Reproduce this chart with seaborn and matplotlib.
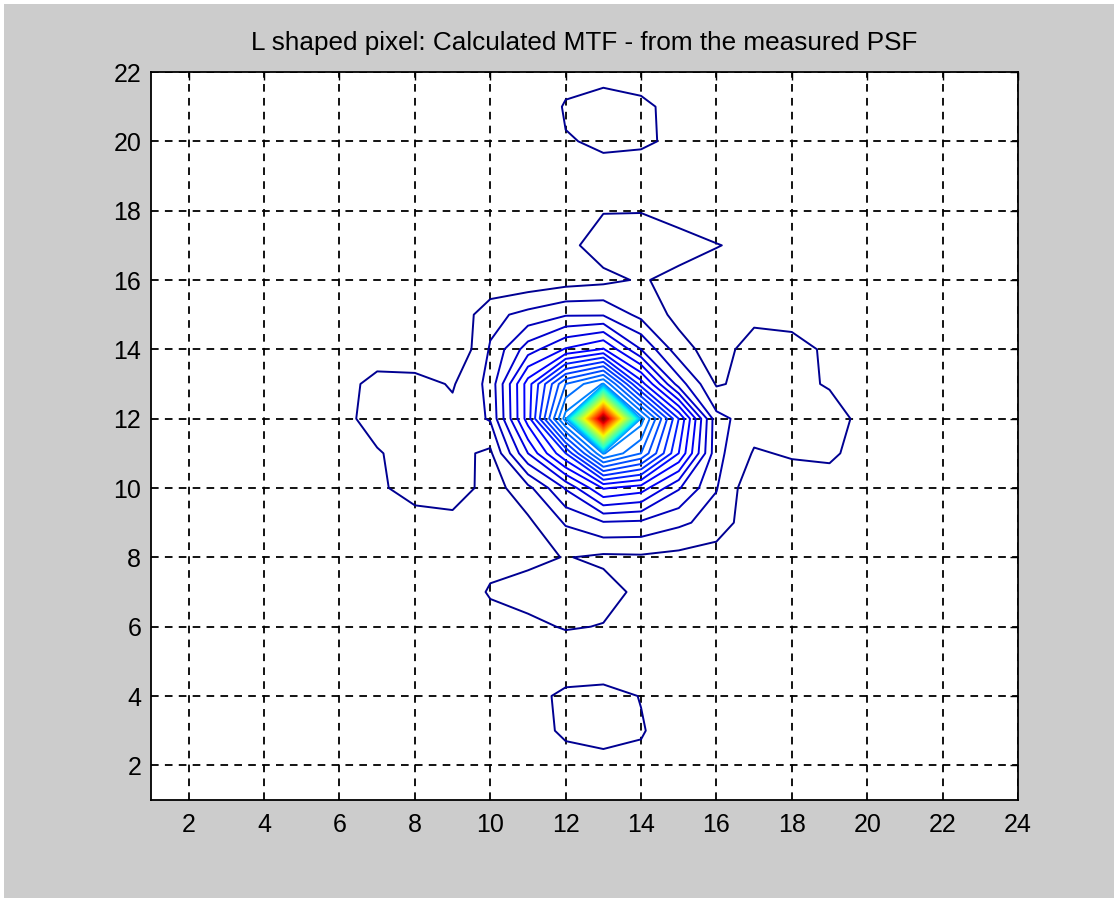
import numpy as np
import matplotlib
matplotlib.use("Agg")
import matplotlib.pyplot as plt
from matplotlib.patches import Rectangle
import seaborn as sns

# grid coordinates (pixel positions of the measured PSF grid)
x_values = list(range(1, 25))
y_values = list(range(1, 23))
x_ticks = [2, 4, 6, 8, 10, 12, 14, 16, 18, 20, 22, 24]
y_ticks = [2, 4, 6, 8, 10, 12, 14, 16, 18, 20, 22]
title_text = "L shaped pixel: Calculated MTF - from the measured PSF"

# MTF values, one list per grid row (x = 1..24)
row_y22 = [.7, .7, .7, .7, .7, .7, .7, .7, .7, .7, .7, 1.1, .75, .4, .7, .7, .7, .7, .7, .7, .7, .7, .7, .7]
row_y21 = [.7, .7, .7, .7, .7, .7, .7, .7, .7, .7, .6, 1.6, 2.4, 2.0, .7, .7, .7, .7, .7, .7, .7, .7, .7, .7]
row_y20 = [.7, .7, .7, .7, .7, .7, .7, .7, .7, .7, .8, 1.45, 1.6, 1.8, 1.1, .7, .7, .7, .7, .7, .7, .7, .7, .7]
row_y19 = [.7, .7, .7, .7, .7, .7, .7, .7, .7, .7, .7, .9, 1.3, .5, .7, .7, .7, .7, .7, .7, .7, .7, .7, .7]
row_y18 = [.7, .7, .7, .7, .7, .7, .7, .7, .7, .7, .7, .9, 1.45, 1.45, 1.0, .7, .7, .7, .7, .7, .7, .7, .7, .7]
row_y17 = [.7, .7, .7, .7, .7, .7, .7, .7, .7, .7, .8, 1.2, 2.0, 2.2, 2.0, 1.55, 1.2, .8, .7, .7, .7, .7, .7, .7]
row_y16 = [.7, .7, .7, .7, .7, .7, .7, .7, .8, .64, .8, 1.04, 1.23, 1.61, 1.15, .9, .8, .7, .7, .7, .7, .7, .7, .7]
row_y15 = [.7, .7, .7, .7, .7, .7, .7, .8, .6, 2.2, 2.8, 3.4, 3.4, 2.2, 1.2, .9, 1.2, 1.0, .8, .7, .7, .7, .7, .7]
row_y14 = [.7, .7, .7, .7, .7, .7, .8, .65, .4, 2.6, 5.0, 6.6, 7.6, 4.5, 1.9, 1.0, 2.0, 2.0, 1.25, .8, .7, .7, .7, .7]
row_y13 = [.7, .7, .7, .7, .7, 1.0, 1.9, 1.9, 1.4, 2.8, 8.0, 13.5, 15.6, 9.0, 4.0, 1.4, 1.8, 1.8, 1.4, .9, .7, .7, .7, .7]
row_y12 = [.7, .7, .7, .7, .8, 1.1, 2.0, 2.2, 1.8, 2.6, 8.0, 16.0, 60.0, 16.0, 9.5, 2.8, 2.0, 2.1, 2.0, 1.1, .7, .7, .7, .7]
row_y11 = [.7, .7, .7, .7, .7, .9, 1.4, 2.0, 1.8, 1.3, 5.5, 9.5, 15.6, 13.5, 8.5, 2.8, 1.4, 1.6, 1.7, 1.0, .7, .7, .7, .7]
row_y10 = [.7, .7, .7, .7, .7, .7, 1.1, 2.4, 2.2, 1.0, 2.2, 4.6, 7.6, 7.0, 4.6, 2.55, .7, 1.0, 1.0, .7, .7, .7, .7, .7]
row_y9 = [.7, .7, .7, .7, .7, .7, .7, .6, 1.1, .8, 1.3, 2.6, 3.4, 3.3, 2.7, 2.1, .8, .7, .7, .7, .7, .7, .7, .7]
row_y8 = [.7, .7, .7, .7, .7, .7, .7, .7, .8, 1.2, 1.2, 1.55, 1.3, 1.35, 1.2, 1.0, .8, .7, .7, .7, .7, .7, .7, .7]
row_y7 = [.7, .7, .7, .7, .7, .7, .7, .7, .8, 1.6, 2.0, 2.2, 1.9, 1.25, .7, .7, .7, .7, .7, .7, .7, .7, .7, .7]
row_y6 = [.7, .7, .7, .7, .7, .7, .7, .7, .7, 1.1, 1.2, 1.6, 1.45, 1.0, .7, .7, .7, .7, .7, .7, .7, .7, .7, .7]
row_y5 = [.7, .7, .7, .7, .7, .7, .7, .7, .7, .7, .8, .6, .5, .8, .7, .7, .7, .7, .7, .7, .7, .7, .7, .7]
row_y4 = [.7, .7, .7, .7, .7, .7, .7, .7, .7, .7, 1.0, 1.8, 2.0, 1.45, .9, .7, .7, .7, .7, .7, .7, .7, .7, .7]
row_y3 = [.7, .7, .7, .7, .7, .7, .7, .7, .7, .7, .75, 1.8, 2.4, 1.6, .8, .7, .7, .7, .7, .7, .7, .7, .7, .7]
row_y2 = [.7, .7, .7, .7, .7, .7, .7, .7, .7, .7, .7, .8, .7, 1.2, .8, .7, .7, .7, .7, .7, .7, .7, .7, .7]
row_y1 = [.7, .7, .7, .7, .7, .7, .7, .7, .7, .7, .7, .7, .7, .7, .7, .7, .7, .7, .7, .7, .7, .7, .7, .7]

# contour levels (MATLAB-like evenly spaced levels)
level_first = 1.5
level_step = 1.0

rows_bottom_up = [row_y1, row_y2, row_y3, row_y4, row_y5, row_y6, row_y7, row_y8,
                  row_y9, row_y10, row_y11, row_y12, row_y13, row_y14, row_y15,
                  row_y16, row_y17, row_y18, row_y19, row_y20, row_y21, row_y22]
Z = np.array(rows_bottom_up, dtype=float)
assert Z.shape == (len(y_values), len(x_values))
levels = np.arange(level_first, Z.max(), level_step)

sns.set_theme(style="white")
plt.rcParams["font.family"] = ["Liberation Sans Narrow", "Liberation Sans", "DejaVu Sans"]
plt.rcParams["lines.scale_dashes"] = False

fig = plt.figure(figsize=(11.14, 8.98), dpi=100)
fig.patch.set_facecolor("#cccccc")
# thin white window border (top and left edges of the screenshot)
fig.patches.append(Rectangle((0, 1 - 4 / 898), 1, 4 / 898, transform=fig.transFigure,
                             facecolor="white", edgecolor="none", zorder=0))
fig.patches.append(Rectangle((0, 0), 4 / 1114, 1, transform=fig.transFigure,
                             facecolor="white", edgecolor="none", zorder=0))

ax = fig.add_axes([151 / 1114, 1 - 800 / 898, (1018 - 151) / 1114, (800 - 72) / 898])
ax.set_facecolor("white")

jet = matplotlib.colormaps["jet"]
X, Y = np.meshgrid(x_values, y_values)
ax.contour(X, Y, Z, levels=levels, cmap=jet, vmin=Z.min(), vmax=Z.max(),
           linewidths=1.4, zorder=3)

ax.set_xlim(1, 24)
ax.set_ylim(1, 22)
ax.set_xticks(x_ticks)
ax.set_yticks(y_ticks)
ax.set_xticklabels([str(t) for t in x_ticks])
ax.set_yticklabels([str(t) for t in y_ticks])
ax.grid(True, color="black", linestyle=(0, (5.5, 4.5)), linewidth=1.3, zorder=1)
ax.tick_params(axis="both", which="both", direction="in", length=6, width=1.0,
               top=True, right=True, labelsize=18, colors="black")
ax.tick_params(axis="x", pad=9)
ax.tick_params(axis="y", pad=7)
for s in ax.spines.values():
    s.set_color("black")
    s.set_linewidth(1.3)
    s.set_visible(True)

ax.set_title(title_text, fontsize=18.8, color="black", pad=16)

fig.savefig("out.png", dpi=100, facecolor=fig.get_facecolor())
